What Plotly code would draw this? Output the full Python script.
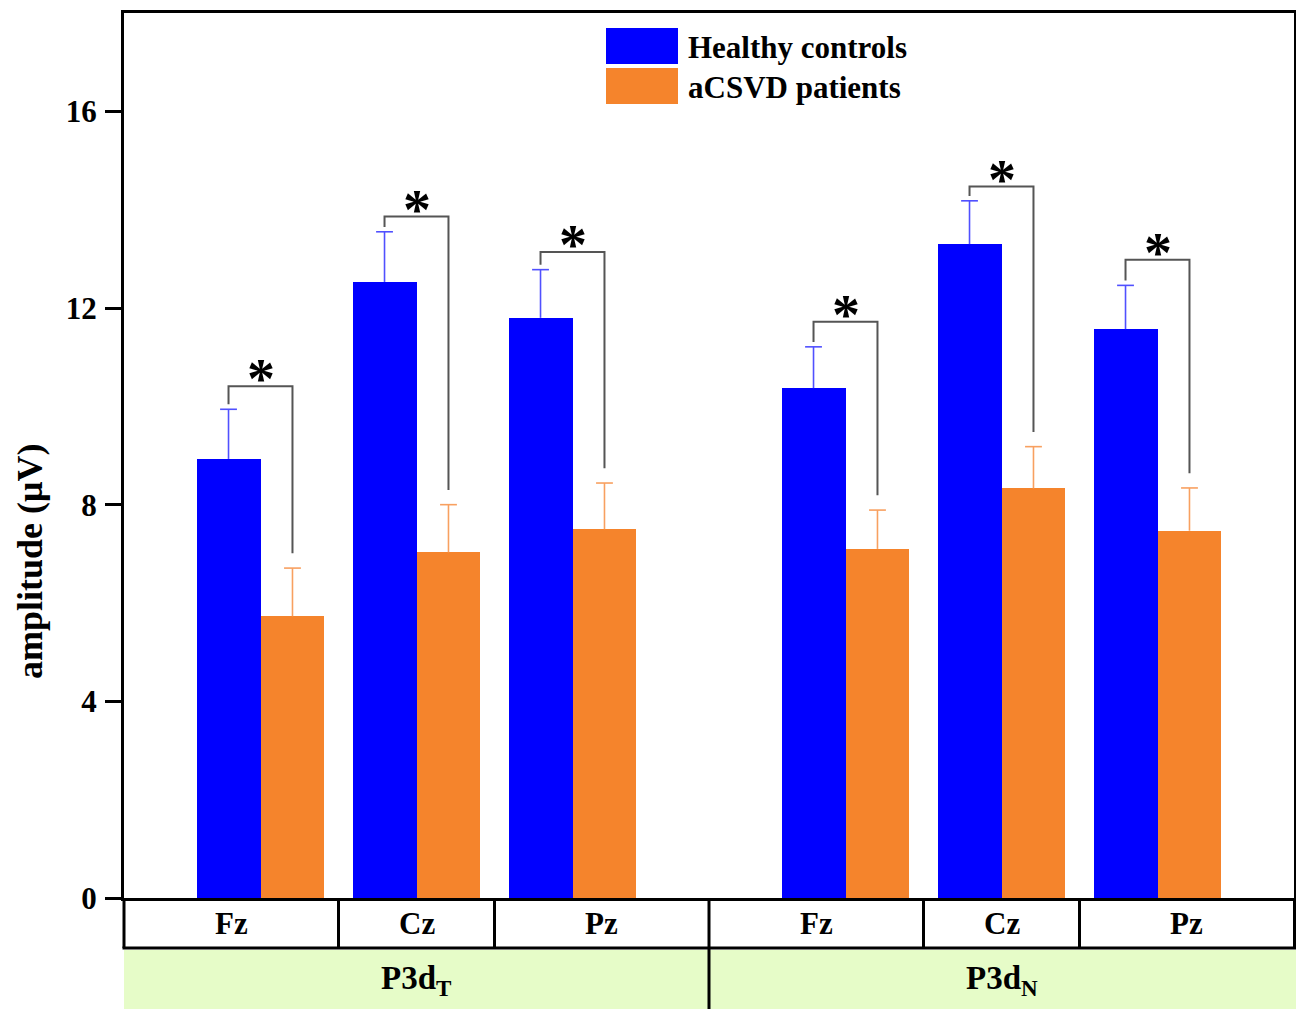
import plotly.graph_objects as go

# ---- data -------------------------------------------------------------
electrodes = ["Fz", "Cz", "Pz", "Fz", "Cz", "Pz"]
components = ["P3d<sub>T</sub>", "P3d<sub>N</sub>"]
series_names = ["Healthy controls", "aCSVD patients"]

healthy_mean = [8.93, 12.53, 11.80, 10.37, 13.30, 11.57]
healthy_err = [1.01, 1.02, 0.98, 0.84, 0.88, 0.89]
patient_mean = [5.73, 7.03, 7.50, 7.10, 8.33, 7.47]
patient_err = [0.98, 0.97, 0.94, 0.79, 0.85, 0.87]

# height of each significance bracket and its marker
bracket_height = [10.41, 13.86, 13.14, 11.72, 14.47, 12.98]
sig_marks = ["*", "*", "*", "*", "*", "*"]

y_ticks = [0, 4, 8, 12, 16]

# ---- layout helpers ---------------------------------------------------
BLUE = "#0000FF"
ORANGE = "#F5842C"
FONT = "Liberation Serif"
X_MAX = 7.5
Y_MAX = 18
BAR_W = 0.41
CAP_HALF = 0.054
group_starts = [0.875, 4.625]
n_per_group = 3

x_pos = [g + i for g in group_starts for i in range(n_per_group)]
x_h = [x - BAR_W / 2 for x in x_pos]
x_p = [x + BAR_W / 2 for x in x_pos]

W, H = 1296, 1009
M_L, M_R, M_T, M_B = 124, 2, 13, 111
plot_h = H - M_T - M_B
plot_w = W - M_L - M_R


def py(pix):
    """Paper y for a pixel row measured from the top of the page."""
    return (H - M_B - pix) / plot_h


def px(pix):
    return (pix - M_L) / plot_w


def upper_error_path(xs, means, errs):
    """One-sided (upward) error bars with a cap, as a single line path."""
    xx, yy = [], []
    for x, m, e in zip(xs, means, errs):
        top = m + e
        xx += [x, x, None, x - CAP_HALF, x + CAP_HALF, None]
        yy += [m, top, None, top, top, None]
    return xx, yy


fig = go.Figure()

fig.add_trace(go.Bar(
    x=x_h, y=healthy_mean, width=BAR_W, name=series_names[0],
    marker=dict(color=BLUE, line=dict(width=0)), showlegend=False,
))
fig.add_trace(go.Bar(
    x=x_p, y=patient_mean, width=BAR_W, name=series_names[1],
    marker=dict(color=ORANGE, line=dict(width=0)), showlegend=False,
))

for xs, means, errs, col in [(x_h, healthy_mean, healthy_err, "#5050FF"),
                             (x_p, patient_mean, patient_err, "#F8A060")]:
    ex, ey = upper_error_path(xs, means, errs)
    fig.add_trace(go.Scatter(x=ex, y=ey, mode="lines",
                             line=dict(color=col, width=1.6),
                             hoverinfo="skip", showlegend=False))

# significance brackets
annotations = []
for i in range(len(x_pos)):
    top = bracket_height[i]
    left_end = healthy_mean[i] + healthy_err[i] + 0.1
    right_end = patient_mean[i] + patient_err[i] + 0.3
    fig.add_trace(go.Scatter(
        x=[x_h[i], x_h[i], x_p[i], x_p[i]],
        y=[left_end, top, top, right_end],
        mode="lines", line=dict(color="#555555", width=2),
        hoverinfo="skip", showlegend=False,
    ))
    annotations.append(dict(
        x=x_pos[i], y=top, xref="x", yref="y", text=sig_marks[i],
        showarrow=False, yanchor="bottom", yshift=-26,
        font=dict(family=FONT, size=56, color="black", weight="bold"),
    ))

# category table under the axis
shapes = []
row1_bottom = 948
row2_top, row2_bottom = 950, H
bounds = [0, 1.375, 2.375, 3.75, 5.125, 6.125, X_MAX]

shapes.append(dict(type="rect", xref="paper", yref="paper",
                   x0=0, x1=px(W), y0=py(row2_top), y1=py(row2_bottom),
                   fillcolor="#E6FCC8", line=dict(width=0), layer="below"))
shapes.append(dict(type="line", xref="paper", yref="paper",
                   x0=px(M_L - 1.5), x1=px(W), y0=py(row1_bottom), y1=py(row1_bottom),
                   line=dict(color="black", width=3)))
for b in bounds:
    xb = b / X_MAX
    if b == X_MAX:
        xb = px(W - 1.5)
    y_end = row2_bottom if b == 3.75 else row1_bottom
    shapes.append(dict(type="line", xref="paper", yref="paper",
                       x0=xb, x1=xb, y0=py(H - M_B), y1=py(y_end),
                       line=dict(color="black", width=3)))

cell_centres = [(a + b) / 2 for a, b in zip(bounds[:-1], bounds[1:])]
for x, lab in zip(cell_centres, electrodes):
    annotations.append(dict(
        x=x, y=py(924), xref="x", yref="paper", text=lab, showarrow=False,
        yanchor="middle",
        font=dict(family=FONT, size=31, color="black", weight="bold"),
    ))
group_centres = [(bounds[0] + bounds[3]) / 2, (bounds[3] + bounds[6]) / 2]
for x, lab in zip(group_centres, components):
    annotations.append(dict(
        x=x, y=py(980), xref="x", yref="paper", text=lab, showarrow=False,
        yanchor="middle",
        font=dict(family=FONT, size=33, color="black", weight="bold"),
    ))

# legend drawn as swatches with labels
legend_rows = [(28, 64, BLUE, 47), (68, 104, ORANGE, 87)]
for (y0, y1, col, yt), name in zip(legend_rows, series_names):
    shapes.append(dict(type="rect", xref="paper", yref="paper",
                       x0=px(606), x1=px(678), y0=py(y1), y1=py(y0),
                       fillcolor=col, line=dict(width=0)))
    annotations.append(dict(
        x=px(686), y=py(yt), xref="paper", yref="paper", text=name,
        showarrow=False, xanchor="left", yanchor="middle",
        font=dict(family=FONT, size=31, color="black", weight="bold"),
    ))

# y-axis title
annotations.append(dict(
    x=px(30), y=py(562), xref="paper", yref="paper", text="amplitude (μV)",
    showarrow=False, textangle=-90, xanchor="center", yanchor="middle",
    font=dict(family=FONT, size=36, color="black", weight="bold"),
))

fig.update_layout(
    width=W, height=H,
    margin=dict(l=M_L, r=M_R, t=M_T, b=M_B, autoexpand=False),
    paper_bgcolor="white", plot_bgcolor="white",
    barmode="overlay", bargap=0,
    shapes=shapes, annotations=annotations,
    xaxis=dict(range=[0, X_MAX], showticklabels=False, ticks="",
               showgrid=False, zeroline=False, showline=True,
               linecolor="black", linewidth=3, mirror=True, fixedrange=True),
    yaxis=dict(range=[0, Y_MAX], tickvals=y_ticks, ticks="outside",
               ticklen=16, tickwidth=3, tickcolor="black",
               ticklabelstandoff=2,
               tickfont=dict(family=FONT, size=31, color="black", weight="bold"),
               showgrid=False, zeroline=False, showline=True,
               linecolor="black", linewidth=3, mirror=True, fixedrange=True),
)

fig.write_html("out.html")
